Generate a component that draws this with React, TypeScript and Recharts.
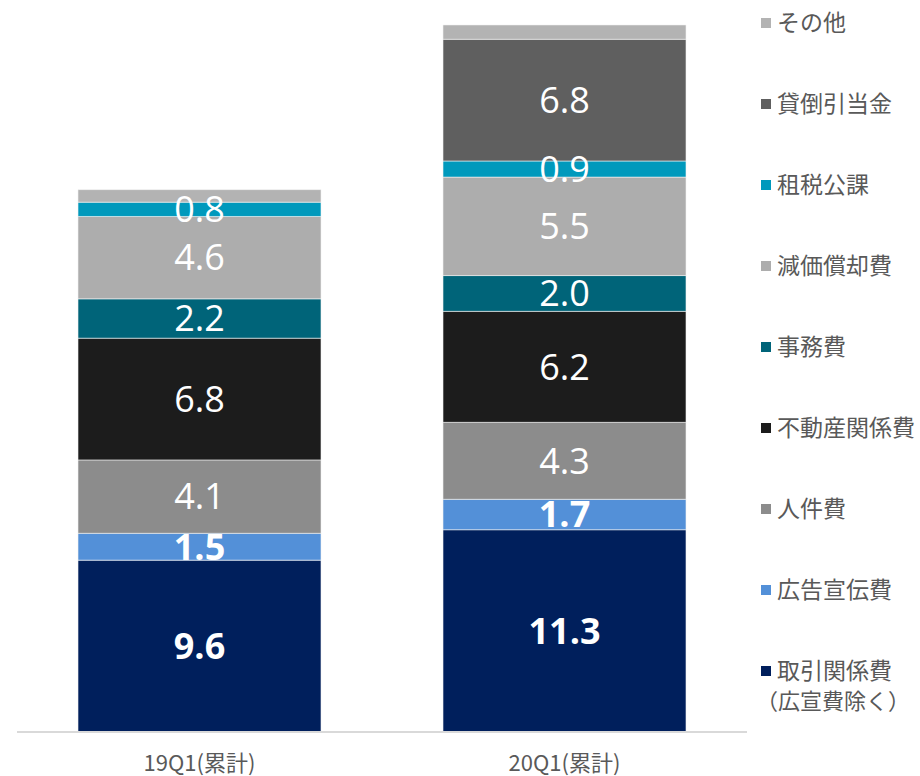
import React from 'react';
import { BarChart, Bar, XAxis, YAxis, LabelList } from 'recharts';

const categories = ['19Q1(累計)', '20Q1(累計)'];

const torihiki = [9.6, 11.3];
const kokoku = [1.5, 1.7];
const jinken = [4.1, 4.3];
const fudosan = [6.8, 6.2];
const jimu = [2.2, 2.0];
const genka = [4.6, 5.5];
const sozei = [0.8, 0.9];
const kashidaore = [0, 6.8];
const sonota = [0.7, 0.8];

// bottom to top stacking order
const series = [
  { key: 'torihiki', name: '取引関係費', sub: '（広宣費除く）', values: torihiki, color: '#001F5C', bold: true, label: true },
  { key: 'kokoku', name: '広告宣伝費', values: kokoku, color: '#5390D8', bold: true, label: true },
  { key: 'jinken', name: '人件費', values: jinken, color: '#8C8C8C', bold: false, label: true },
  { key: 'fudosan', name: '不動産関係費', values: fudosan, color: '#1C1C1C', bold: false, label: true },
  { key: 'jimu', name: '事務費', values: jimu, color: '#006479', bold: false, label: true },
  { key: 'genka', name: '減価償却費', values: genka, color: '#ADADAD', bold: false, label: true },
  { key: 'sozei', name: '租税公課', values: sozei, color: '#0099BC', bold: false, label: true },
  { key: 'kashidaore', name: '貸倒引当金', values: kashidaore, color: '#5F5F5F', bold: false, label: true },
  { key: 'sonota', name: 'その他', values: sonota, color: '#B3B3B3', bold: false, label: false },
];

const data = categories.map((c, i) => {
  const row: Record<string, string | number> = { name: c };
  series.forEach((s) => {
    row[s.key] = s.values[i];
  });
  return row;
});

const fmt = (v: any) => (v ? Number(v).toFixed(1) : '');

const LegendBox = () => {
  const items = [...series].reverse();
  return (
    <div style={{ position: 'absolute', left: 756, top: 0, width: 164, height: 776, fontFamily: '"Noto Sans CJK JP", sans-serif', color: '#595959', fontSize: 23 }}>
      {items.map((s, i) => (
        <React.Fragment key={s.key}>
          <div style={{ position: 'absolute', top: 6 + i * 81, left: 5, whiteSpace: 'nowrap', lineHeight: '31px' }}>
            <span style={{ display: 'inline-block', width: 10, height: 10, background: s.color, marginRight: 6, verticalAlign: 'middle', position: 'relative', top: -2 }} />
            <span>{s.name}</span>
          </div>
          {s.sub && (
            <div style={{ position: 'absolute', top: 37 + i * 81, left: 0, whiteSpace: 'nowrap', lineHeight: '28px', fontSize: 22 }}>
              {s.sub}
            </div>
          )}
        </React.Fragment>
      ))}
    </div>
  );
};

export default function App() {
  return (
    <div style={{ position: 'absolute', left: 0, top: 0, width: 920, height: 776, background: '#fff' }}>
      <BarChart
        width={920}
        height={776}
        data={data}
        margin={{ top: 16, right: 173, bottom: 4, left: 17 }}
        barSize={243}
      >
        <XAxis
          dataKey="name"
          axisLine={{ stroke: '#D9D9D9', strokeWidth: 2 }}
          tickLine={false}
          height={40}
          tickMargin={17}
          tick={{ fill: '#595959', fontSize: 22, fontFamily: '"Noto Sans CJK JP", sans-serif' }}
        />
        <YAxis hide domain={[0, 40]} />
        {series.map((s) => (
          <Bar
            key={s.key}
            dataKey={s.key}
            stackId="a"
            fill={s.color}
            stroke="#F2F2F2"
            strokeWidth={0.6}
            isAnimationActive={false}
          >
            {s.label && (
              <LabelList
                dataKey={s.key}
                position="center"
                formatter={fmt}
                fill="#FFFFFF"
                style={{ fontSize: 36, fontWeight: s.bold ? 700 : 400, fontFamily: '"Open Sans", sans-serif' }}
              />
            )}
          </Bar>
        ))}
      </BarChart>
      <LegendBox />
    </div>
  );
}
